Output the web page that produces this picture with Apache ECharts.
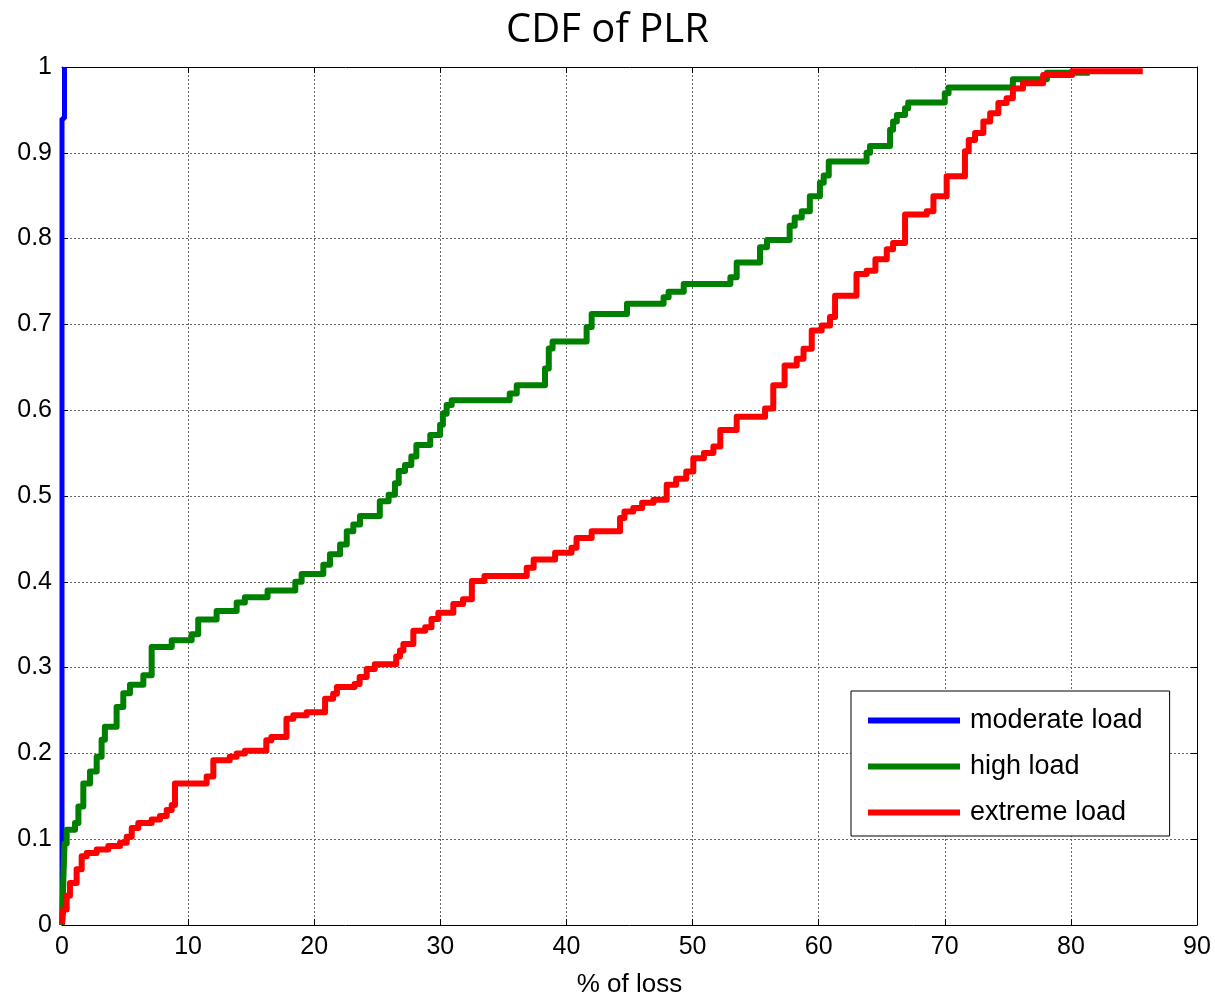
<!DOCTYPE html>
<html>
<head>
<meta charset="utf-8">
<script src="https://cdn.jsdelivr.net/npm/echarts@6/dist/echarts.min.js"></script>
<style>html,body{margin:0;padding:0;background:#fff;overflow:hidden;}#c{width:1215px;height:1003px;}</style>
</head>
<body>
<div id="c"></div>
<script>
const titleText = 'CDF of PLR';
const xAxisName = '% of loss';
const seriesNames = ['moderate load', 'high load', 'extreme load'];
const xTicks = [0, 10, 20, 30, 40, 50, 60, 70, 80, 90];
const yTicks = [0, 0.1, 0.2, 0.3, 0.4, 0.5, 0.6, 0.7, 0.8, 0.9, 1];

const moderateX = [0, 0, 0.2, 0.2];
const moderateY = [0, 0.94, 0.94, 1.0];

const highX = [0, 0.1, 0.2, 0.37, 1.03, 1.3, 1.69, 2.22, 2.75, 3.14, 3.4, 4.33, 4.86, 5.39, 6.45, 7.11, 8.7, 10.28, 10.8, 12.26, 13.85, 14.5,
  16.3, 18.5, 19.0, 20.72, 21.25, 22.05, 22.58, 23.1, 23.63, 25.2, 25.9, 26.4, 26.7, 27.2, 27.7, 28.1, 29.2, 29.98, 30.2, 30.5, 30.9,
  35.5, 36.06, 38.3, 38.6, 38.9, 41.6, 42.0, 44.8, 47.7, 48.1, 49.3, 53.0, 53.5, 55.35, 55.9, 57.7, 58.1, 58.66, 59.3, 60.1, 60.4, 60.8,
  63.8, 64.07, 65.66, 65.9, 66.2, 66.85, 67.1, 70.0, 70.3, 75.4, 78.1, 81.5];
const highY = [0, 0.05, 0.095, 0.111, 0.119, 0.138, 0.165, 0.179, 0.196, 0.216, 0.231, 0.254, 0.27, 0.28, 0.291, 0.324, 0.332, 0.339, 0.356, 0.366, 0.376, 0.382,
  0.39, 0.40, 0.409, 0.420, 0.432, 0.4435, 0.459, 0.4667, 0.4768, 0.494, 0.5015, 0.515, 0.529, 0.536, 0.546, 0.5595, 0.571, 0.583, 0.596, 0.606, 0.6117,
  0.6195, 0.629, 0.6485, 0.672, 0.680, 0.697, 0.712, 0.724, 0.7316, 0.738, 0.747, 0.755, 0.772, 0.790, 0.7985, 0.815, 0.8245, 0.832, 0.8495, 0.865, 0.8735, 0.890,
  0.900, 0.908, 0.927, 0.9366, 0.944, 0.952, 0.9586, 0.9695, 0.976, 0.9857, 0.9934, 0.9934];

const extremeX = [0, 0.1, 0.37, 0.63, 1.16, 1.56, 1.96, 2.75, 3.67, 4.6, 5.13, 5.53, 6.05, 7.11, 7.77, 8.3, 8.7, 8.96, 11.47, 12.0, 13.3, 13.85, 14.5,
  16.2, 16.6, 17.8, 18.34, 19.4, 20.86, 21.5, 21.8, 23.2, 23.6, 24.16, 24.8, 26.5, 26.8, 27.07, 27.86, 28.8, 29.3, 29.84, 31.03, 31.8, 32.5, 33.5,
  36.85, 37.4, 39.1, 40.4, 40.8, 42.0, 44.25, 44.6, 45.3, 46.0, 46.9, 47.95, 48.7, 49.5, 50.06, 50.9, 51.65, 52.2, 53.5, 55.75, 56.4, 57.3, 58.26,
  58.8, 59.45, 60.24, 60.9, 61.3, 63.0, 63.8, 64.5, 65.4, 65.9, 66.85, 68.57, 69.1, 70.15, 71.6, 71.9, 72.4, 73.06, 73.6, 74.25, 74.9, 75.4, 76.2,
  77.8, 80.1, 85.7];
const extremeY = [0.001, 0.018, 0.034, 0.049, 0.065, 0.080, 0.084, 0.088, 0.092, 0.096, 0.103, 0.113, 0.119, 0.123, 0.127, 0.134, 0.140, 0.165, 0.173, 0.192, 0.196, 0.200, 0.203,
  0.2154, 0.219, 0.2405, 0.2444, 0.248, 0.2637, 0.2695, 0.2773, 0.281, 0.2889, 0.2985, 0.304, 0.313, 0.32, 0.3275, 0.343, 0.347, 0.3565, 0.364, 0.374, 0.3797, 0.401, 0.4068,
  0.4165, 0.426, 0.4339, 0.4397, 0.451, 0.459, 0.4745, 0.482, 0.486, 0.492, 0.4957, 0.513, 0.520, 0.5287, 0.544, 0.550, 0.5576, 0.577, 0.5924, 0.602, 0.629, 0.652, 0.660,
  0.6717, 0.693, 0.6987, 0.7085, 0.7335, 0.7587, 0.7625, 0.776, 0.7877, 0.795, 0.828, 0.832, 0.8495, 0.8727, 0.9017, 0.915, 0.923, 0.9366, 0.946, 0.958, 0.9636, 0.975, 0.981,
  0.9907, 0.995, 0.995];

const colors = ['#0000ff', '#008000', '#ff0000'];
const zip = (xs, ys) => xs.map((x, i) => [x, ys[i]]);

const chart = echarts.init(document.getElementById('c'), null, {renderer: 'canvas', width: 1215, height: 1003});
const font = 'Liberation Sans, Arial, sans-serif';
const axisCommon = {
  axisLine: {show: true, onZero: false, lineStyle: {color: '#000', width: 1}},
  axisTick: {show: true, inside: true, length: 6, lineStyle: {color: '#000', width: 1}}
};
chart.setOption({
  animation: false,
  backgroundColor: '#fff',
  title: {
    text: titleText, left: 'center', top: 6,
    textStyle: {fontFamily: 'Open Sans, sans-serif', fontSize: 40, fontWeight: 'normal', color: '#000'}
  },
  grid: {left: 62, right: 18, top: 67, bottom: 74, containLabel: false},
  legend: {
    orient: 'vertical', left: 851, top: 691,
    data: seriesNames,
    icon: 'rect', itemWidth: 92, itemHeight: 6, itemGap: 19,
    padding: [16, 27, 10, 17],
    backgroundColor: '#fff', borderColor: '#000', borderWidth: 1, borderRadius: 0,
    textStyle: {fontFamily: font, fontSize: 27, color: '#000', padding: [0, 0, 0, 5]}
  },
  xAxis: [
    Object.assign({
      type: 'value', min: xTicks[0], max: xTicks[xTicks.length - 1], interval: 10, position: 'bottom',
      name: xAxisName, nameLocation: 'middle', nameGap: 47,
      nameTextStyle: {fontFamily: font, fontSize: 26, color: '#000'},
      axisLabel: {fontFamily: font, fontSize: 25, color: '#000', margin: 10},
      splitLine: {show: true, lineStyle: {color: '#666', type: [2, 2], width: 1}}
    }, axisCommon),
    Object.assign({
      type: 'value', min: xTicks[0], max: xTicks[xTicks.length - 1], interval: 10, position: 'top',
      axisLabel: {show: false}, splitLine: {show: false}
    }, axisCommon)
  ],
  yAxis: [
    Object.assign({
      type: 'value', min: yTicks[0], max: yTicks[yTicks.length - 1], interval: 0.1, position: 'left',
      axisLabel: {fontFamily: font, fontSize: 25, color: '#000', margin: 10},
      splitLine: {show: true, lineStyle: {color: '#666', type: [2, 2], width: 1}}
    }, axisCommon),
    Object.assign({
      type: 'value', min: yTicks[0], max: yTicks[yTicks.length - 1], interval: 0.1, position: 'right',
      axisLabel: {show: false}, splitLine: {show: false}
    }, axisCommon)
  ],
  series: [
    {name: seriesNames[0], type: 'line', step: 'end', showSymbol: false, symbol: 'none', data: zip(moderateX, moderateY),
      lineStyle: {color: colors[0], width: 5}, itemStyle: {color: colors[0]}},
    {name: seriesNames[1], type: 'line', step: 'end', showSymbol: false, symbol: 'none', data: zip(highX, highY),
      lineStyle: {color: colors[1], width: 6, join: 'round'}, itemStyle: {color: colors[1]}},
    {name: seriesNames[2], type: 'line', step: 'end', showSymbol: false, symbol: 'none', data: zip(extremeX, extremeY),
      lineStyle: {color: colors[2], width: 6, join: 'round'}, itemStyle: {color: colors[2]}}
  ]
});
</script>
</body>
</html>
